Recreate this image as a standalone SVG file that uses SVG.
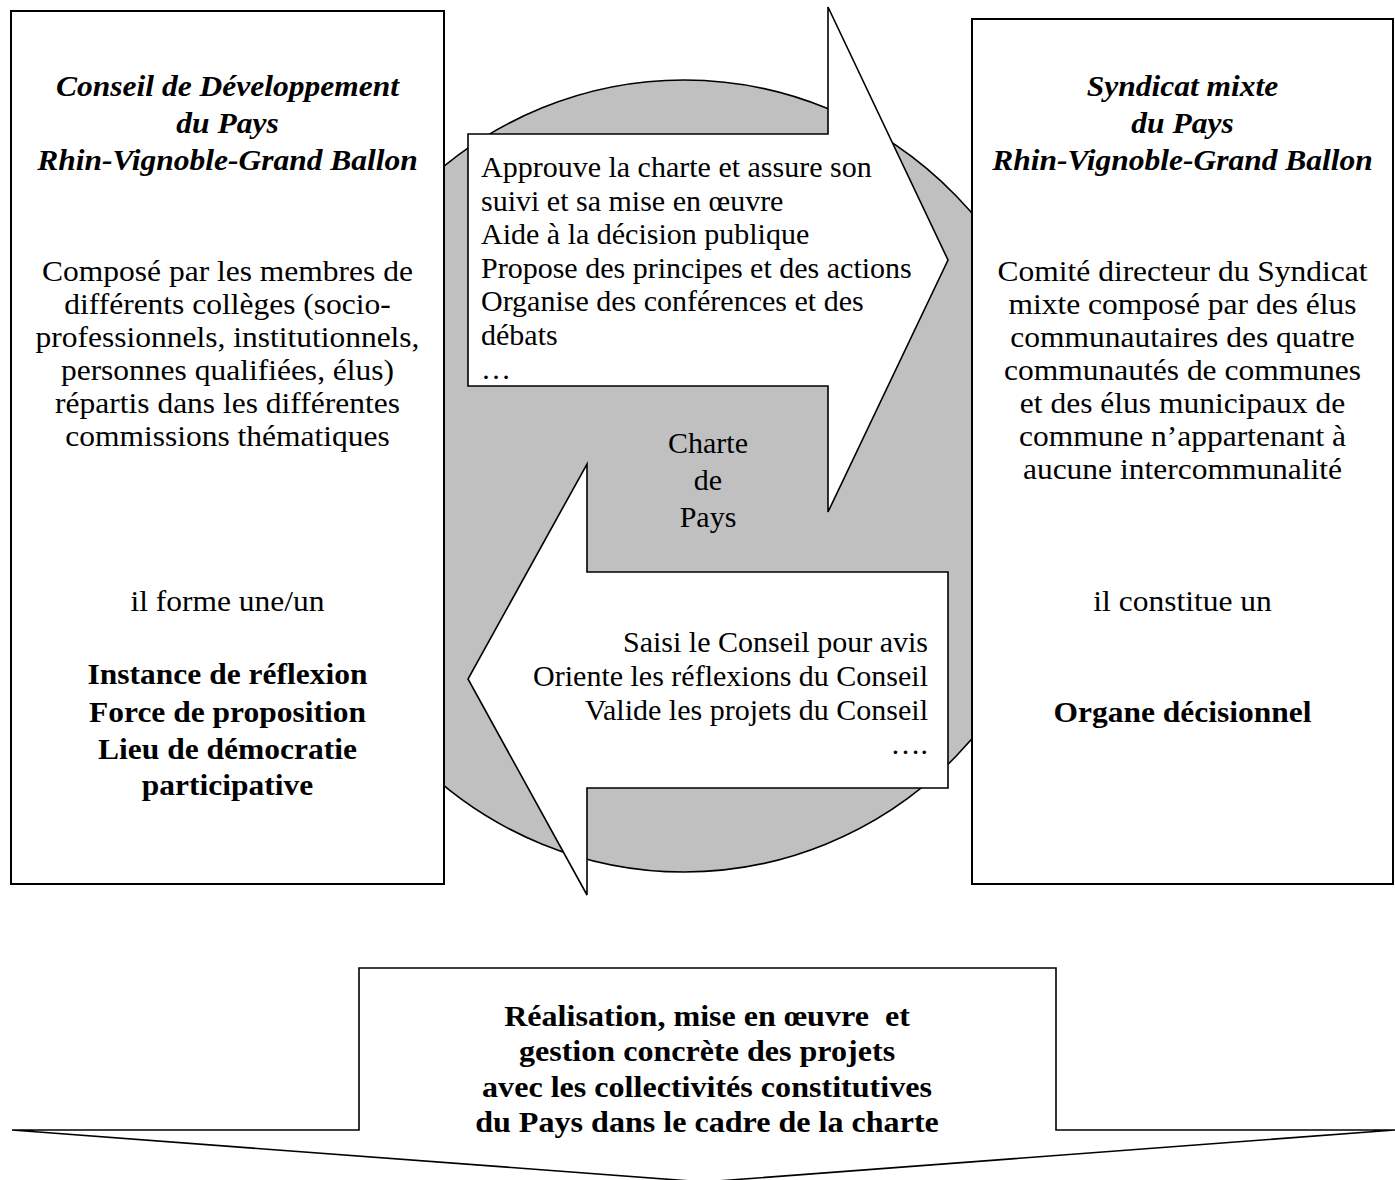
<svg xmlns="http://www.w3.org/2000/svg" width="1395" height="1180" viewBox="0 0 1395 1180">
<style>
.t{font-family:"Liberation Serif","Times New Roman",serif;font-size:30px;fill:#000}
.c{text-anchor:middle}
.r{text-anchor:end}
.bi{font-weight:bold;font-style:italic}
.b{font-weight:bold}
.pre{white-space:pre}
.shape{fill:#fff;stroke:#000;stroke-width:2}
.arrow{fill:#fff;stroke:#000;stroke-width:1.6;stroke-linejoin:miter}
</style>
<rect width="1395" height="1180" fill="#fff"/>
<g id="charte-de-pays">
<ellipse cx="684" cy="476" rx="385" ry="396" fill="#c0c0c0" stroke="#000" stroke-width="1.6"/>
<text class="t c" x="708" y="453">Charte</text>
<text class="t c" x="708" y="490">de</text>
<text class="t c" x="708" y="527">Pays</text>
</g>
<g id="connectors">
<g id="arrow-right">
<polygon class="arrow" points="468,134 828,134 828,7 948,260 828,512 828,386 468,386"/>
<text class="t" x="481" y="177">Approuve la charte et assure son</text>
<text class="t" x="481" y="210.6">suivi et sa mise en œuvre</text>
<text class="t" x="481" y="244.2">Aide à la décision publique</text>
<text class="t" x="481" y="277.8">Propose des principes et des actions</text>
<text class="t" x="481" y="311.4">Organise des conférences et des</text>
<text class="t" x="481" y="345">débats</text>
<text class="t" x="481" y="378.6">…</text>
</g>
<g id="arrow-left">
<polygon class="arrow" points="948,572 587,572 587,464 468,679 587,895 587,788 948,788"/>
<text class="t r" x="928" y="652">Saisi le Conseil pour avis</text>
<text class="t r" x="928" y="686">Oriente les réflexions du Conseil</text>
<text class="t r" x="928" y="720">Valide les projets du Conseil</text>
<text class="t r" x="928" y="754">….</text>
</g>
<g id="arrow-down">
<polygon class="arrow" points="359,968 1056,968 1056,1130 1395,1130 704,1182 12,1130 359,1130"/>
<g transform="translate(707,0) scale(1.07,1)">
<text class="t c b pre" x="0" y="1026" xml:space="preserve">Réalisation, mise en œuvre  et</text>
<text class="t c b" x="0" y="1061">gestion concrète des projets</text>
<text class="t c b" x="0" y="1097">avec les collectivités constitutives</text>
<text class="t c b" x="0" y="1132">du Pays dans le cadre de la charte</text>
</g>
</g>
</g>
<g id="conseil-developpement">
<rect class="shape" x="11" y="11" width="433" height="873"/>
<g transform="translate(227.5,0) scale(1.05,1)">
<text class="t c bi" x="0" y="96">Conseil de Développement</text>
<text class="t c bi" x="0" y="133">du Pays</text>
<text class="t c bi" x="0" y="170">Rhin-Vignoble-Grand Ballon</text>
<text class="t c" x="0" y="281">Composé par les membres de</text>
<text class="t c" x="0" y="314">différents collèges (socio-</text>
<text class="t c" x="0" y="347">professionnels, institutionnels,</text>
<text class="t c" x="0" y="380">personnes qualifiées, élus)</text>
<text class="t c" x="0" y="413">répartis dans les différentes</text>
<text class="t c" x="0" y="446">commissions thématiques</text>
<text class="t c" x="0" y="611">il forme une/un</text>
<text class="t c b" x="0" y="684">Instance de réflexion</text>
<text class="t c b" x="0" y="722">Force de proposition</text>
<text class="t c b" x="0" y="759">Lieu de démocratie</text>
<text class="t c b" x="0" y="795">participative</text>
</g>
</g>
<g id="syndicat-mixte">
<rect class="shape" x="972" y="19" width="421" height="865"/>
<g transform="translate(1182.5,0) scale(1.05,1)">
<text class="t c bi" x="0" y="96">Syndicat mixte</text>
<text class="t c bi" x="0" y="133">du Pays</text>
<text class="t c bi" x="0" y="170">Rhin-Vignoble-Grand Ballon</text>
<text class="t c" x="0" y="281">Comité directeur du Syndicat</text>
<text class="t c" x="0" y="314">mixte composé par des élus</text>
<text class="t c" x="0" y="347">communautaires des quatre</text>
<text class="t c" x="0" y="380">communautés de communes</text>
<text class="t c" x="0" y="413">et des élus municipaux de</text>
<text class="t c" x="0" y="446">commune n’appartenant à</text>
<text class="t c" x="0" y="479">aucune intercommunalité</text>
<text class="t c" x="0" y="611">il constitue un</text>
<text class="t c b" x="0" y="722">Organe décisionnel</text>
</g>
</g>
</svg>
